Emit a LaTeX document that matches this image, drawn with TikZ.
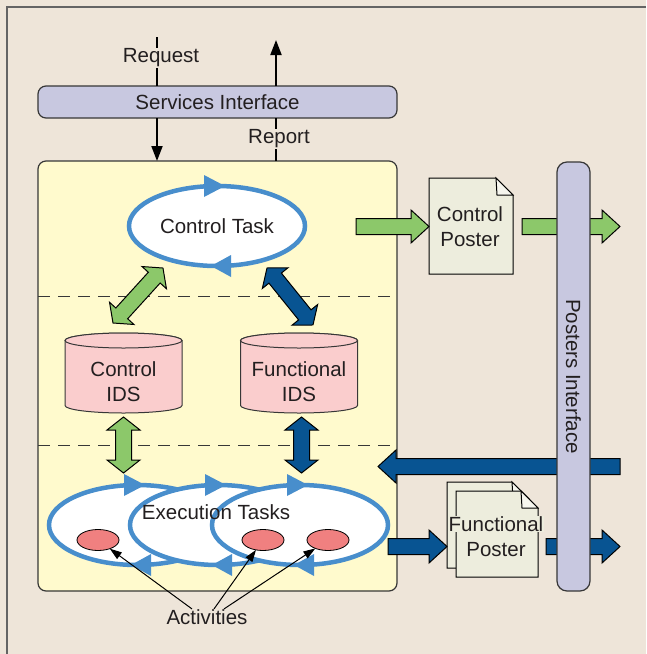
\documentclass[tikz,border=0pt]{standalone}
\usepackage{fontspec}
\setmainfont{Liberation Sans}
\usetikzlibrary{calc,shapes.geometric,arrows.meta}

\definecolor{bg}{RGB}{238,229,217}
\definecolor{framegray}{RGB}{100,100,100}
\definecolor{edge}{RGB}{55,55,55}
\definecolor{ink}{RGB}{35,31,32}
\definecolor{yellowbox}{RGB}{255,250,205}
\definecolor{lav}{RGB}{200,200,224}
\definecolor{pinkstore}{RGB}{250,205,205}
\definecolor{actred}{RGB}{240,128,128}
\definecolor{leaf}{RGB}{140,200,106}
\definecolor{navy}{RGB}{8,84,146}
\definecolor{taskblue}{RGB}{72,142,204}
\definecolor{paper}{RGB}{237,237,221}
\definecolor{paperfold}{RGB}{246,246,238}

% fat outlined arrow with one head, from tail #1 to tip #2
\newcommand\fatsingle[3]{%
  \path[fatedge, fill=#3] let \p1=($(#2)-(#1)$), \n1={atan2(\y1,\x1)}, \n2={veclen(\x1,\y1)} in
    [shift={(#1)}, rotate=\n1]
    (0pt,8pt) -- (\n2-18pt,8pt) -- (\n2-18pt,16.5pt) -- (\n2+0pt,0pt)
    -- (\n2-18pt,-16.5pt) -- (\n2-18pt,-8pt) -- (0pt,-8pt) -- cycle;}
% fat outlined arrow with heads at both ends
\newcommand\fatdouble[3]{%
  \path[fatedge, fill=#3] let \p1=($(#2)-(#1)$), \n1={atan2(\y1,\x1)}, \n2={veclen(\x1,\y1)} in
    [shift={(#1)}, rotate=\n1]
    (0pt,0pt) -- (13pt,16.5pt) -- (13pt,8pt) -- (\n2-13pt,8pt) -- (\n2-13pt,16.5pt)
    -- (\n2+0pt,0pt) -- (\n2-13pt,-16.5pt) -- (\n2-13pt,-8pt) -- (13pt,-8pt)
    -- (13pt,-16.5pt) -- cycle;}
% the two direction marks on a task loop
\newcommand\loopheads[1]{%
  \fill[taskblue] ([xshift=8pt]#1.north) -- ([xshift=-13pt,yshift=11pt]#1.north)
    -- ([xshift=-13pt,yshift=-11pt]#1.north) -- cycle;
  \fill[taskblue] ([xshift=-6pt]#1.south) -- ([xshift=14pt,yshift=11pt]#1.south)
    -- ([xshift=14pt,yshift=-11pt]#1.south) -- cycle;}
% a data store drawn as a cylinder centred at x = #1
\newcommand\storecyl[1]{%
  \filldraw[store] ({#1-58.5},340.5) -- ({#1-58.5},405.5)
    arc[start angle=180,end angle=360,x radius=58.5pt,y radius=7.5pt]
    -- ({#1+58.5},340.5)
    arc[start angle=0,end angle=180,x radius=58.5pt,y radius=7.5pt] -- cycle;
  \draw[store] (#1,340.5) ellipse[x radius=58.5pt,y radius=7.5pt];}
% a sheet with a folded corner
\newcommand\sheet[4]{%
  \filldraw[sheetst] (#1,#2) -- ({#3-17},#2) -- (#3,{#2+17}) -- (#3,#4) -- (#1,#4) -- cycle;
  \filldraw[sheetst, fill=paperfold] ({#3-17},#2) -- ({#3-16},{#2+17}) -- (#3,{#2+17}) -- cycle;}

\begin{document}
\begin{tikzpicture}[x=1pt,y=-1pt,
  font=\fontsize{20.5}{25}\selectfont, text=ink,
  panel/.style={draw=edge, line width=1.2pt, rounded corners=8pt, inner sep=0pt, outer sep=0pt},
  taskloop/.style={ellipse, draw=taskblue, line width=4.5pt, fill=white,
    minimum width=176pt, minimum height=80pt, inner sep=0pt, outer sep=0pt},
  store/.style={draw=edge, line width=1pt, fill=pinkstore},
  sheetst/.style={draw=black, line width=1pt, fill=paper, line join=miter},
  actdot/.style={ellipse, draw=black, line width=0.8pt, fill=actred,
    minimum width=42pt, minimum height=21pt, inner sep=0pt, outer sep=0pt},
  lbl/.style={fill=bg, inner sep=1pt},
  flow/.style={line width=2pt, -{Triangle[length=15pt,width=11pt]}},
  pointer/.style={line width=1pt, -{Triangle[length=12pt,width=8pt]}},
  divider/.style={draw=edge, line width=1pt, dash pattern=on 12pt off 8pt},
  fatedge/.style={draw=black, line width=1pt, line join=miter}]

\useasboundingbox (0,0) rectangle (646,654);
\fill[bg] (0,0) rectangle (646,654);
\draw[framegray, line width=2pt] (646,7) -- (7,7) -- (7,654);

% interface and main container
\node[panel, fill=lav, minimum width=359pt, minimum height=32pt] (svc) at (217.5,102) {Services Interface};
\node[panel, fill=yellowbox, minimum width=359pt, minimum height=430pt] (main) at (217.5,376) {};

% request / report flows
\coordinate (reqtop) at (157,37);
\coordinate (reptop) at (276,40);
\draw[line width=2pt] (reqtop) -- (reqtop |- svc.north);
\draw[flow] (reqtop |- svc.south) -- (reqtop |- main.north);
\draw[flow] (reptop |- svc.north) -- (reptop);
\draw[line width=2pt] (reptop |- main.north) -- (reptop |- svc.south);
\node[lbl] (req) at (161,58) {Request};
\node[lbl] (rep) at (279,139) {Report};

% layer separators
\coordinate (d1) at (38,296);
\coordinate (d2) at (38,445);
\draw[divider] (d1) -- (d1 -| main.east);
\draw[divider] (d2) -- (d2 -| main.east);

% control task loop
\node[taskloop] (ct) at (217,226) {Control Task};
\loopheads{ct}

% data stores
\storecyl{123.5}
\node[align=center] (cids) at (123.5,382) {Control\\IDS};
\storecyl{299}
\node[align=center] (fids) at (299,382) {Functional\\IDS};

% exchanges between the task loops and the stores
\coordinate (g1) at (113,323);
\coordinate (g2) at (163,268);
\coordinate (b1) at (267,268);
\coordinate (b2) at (313,325);
\coordinate (g3) at (123.5,417);
\coordinate (g4) at (123.5,473);
\coordinate (b3) at (301.5,417);
\coordinate (b4) at (301.5,473);
\fatdouble{g1}{g2}{leaf}
\fatdouble{b1}{b2}{navy}
\fatdouble{g3}{g4}{leaf}
\fatdouble{b3}{b4}{navy}

% execution task loops
\node[taskloop] (e1) at (137,525) {};
\node[taskloop] (e2) at (218,525) {};
\node[taskloop] (e3) at (300,525) {};
\loopheads{e1}
\loopheads{e2}
\loopheads{e3}
\node (et) at (216,512) {Execution Tasks};
\node[actdot] (a1) at (98,540) {};
\node[actdot] (a2) at (263,540) {};
\node[actdot] (a3) at (328,540) {};

% activities callout
\node (act) at (207,617) {Activities};
\draw[pointer] ([xshift=-15pt,yshift=-3pt]act.north) -- (a1);
\draw[pointer] ([xshift=7pt,yshift=-3pt]act.north) -- (a2);
\draw[pointer] ([xshift=17pt,yshift=-3pt]act.north) -- (a3);

% posters
\sheet{429}{178}{513}{274}
\node[align=center] (cpt) at (470,227) {Control\\Poster};
\sheet{447}{482}{529}{568}
\sheet{456}{491}{538}{577}
\node[align=center, inner sep=0pt] (fpt) at (496,536)
  {{\setlength{\fboxsep}{0.5pt}\colorbox{paper}{Functional}}\\Poster};

% poster traffic
\coordinate (gin) at (356,226.5);
\coordinate (cpw) at (429,226.5);
\coordinate (gsrc) at (522,226.5);
\coordinate (gout) at (620,226.5);
\coordinate (bsrc) at (620,466.5);
\coordinate (bin) at (378,466.5);
\coordinate (fsrc) at (388,546.5);
\coordinate (fpw) at (447,546.5);
\coordinate (fsrc2) at (546,546.5);
\coordinate (fout) at (620,546.5);
\fatsingle{gin}{cpw}{leaf}
\fatsingle{gsrc}{gout}{leaf}
\fatsingle{bsrc}{bin}{navy}
\fatsingle{fsrc}{fpw}{navy}
\fatsingle{fsrc2}{fout}{navy}

% posters interface bar
\node[panel, fill=lav, rounded corners=10pt, rotate=-90,
  minimum width=429pt, minimum height=33pt] (pi) at (573.5,376.5) {Posters Interface};
\end{tikzpicture}
\end{document}
